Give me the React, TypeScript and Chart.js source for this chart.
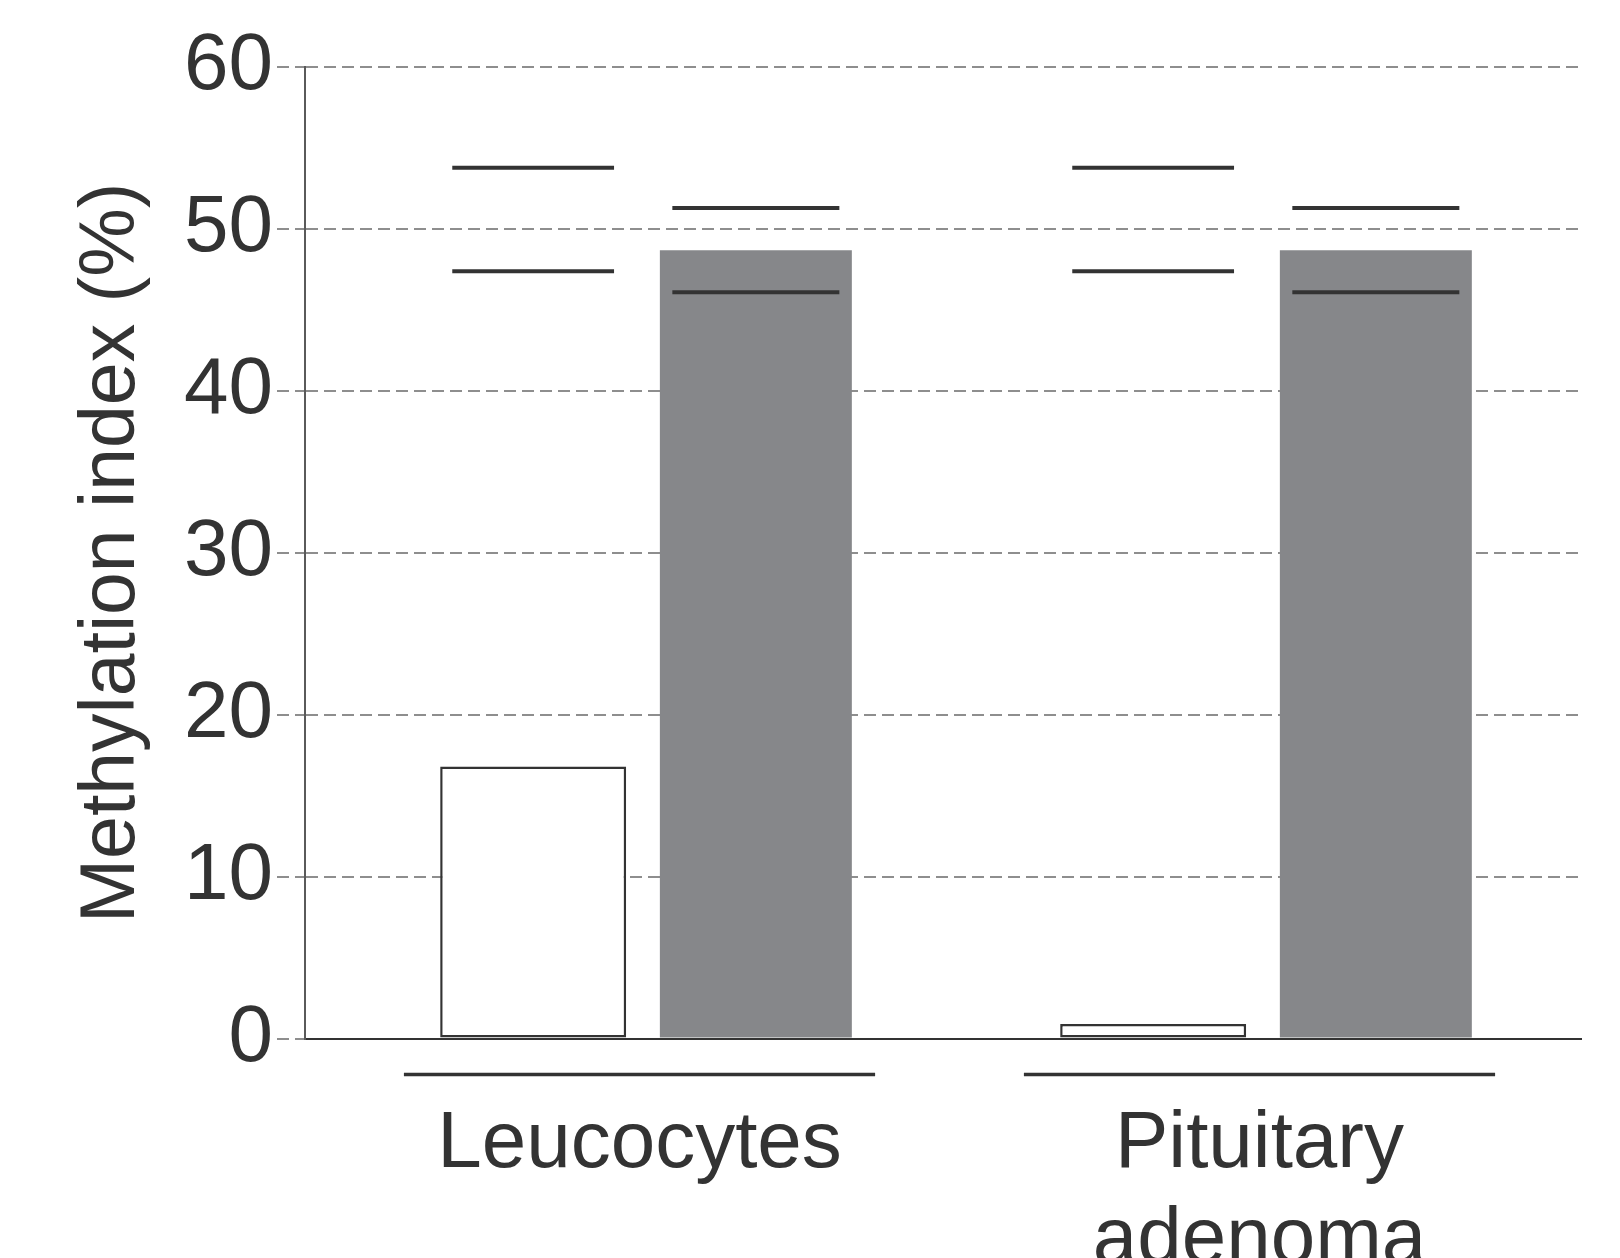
import React, { useEffect, useRef } from "react";
import { Chart, registerables } from "chart.js";

Chart.register(...registerables);

// ---- data ----
const categories: (string | string[])[] = ["Leucocytes", ["Pituitary", "adenoma"]];
const seriesNames = ["Open bars", "Filled bars"];
const openValues = [16.8, 0.9];
const filledValues = [48.7, 48.7];
const openUpper = [53.8, 53.8];
const openLower = [47.4, 47.4];
const filledUpper = [51.3, 51.3];
const filledLower = [46.1, 46.1];
const yTicks = [0, 10, 20, 30, 40, 50, 60];
const yTitle = "Methylation index (%)";

const FONT = "'Liberation Sans', Arial, Helvetica, sans-serif";
const DARK = "#333333";
const LABEL_OFFSET = -5;

const markerPlugin = {
  id: "rangeMarkers",
  afterDatasetsDraw(chart: any) {
    const { ctx } = chart;
    const y = chart.scales.y;
    const sets = [
      [openUpper, openLower],
      [filledUpper, filledLower],
    ];
    ctx.save();
    ctx.strokeStyle = DARK;
    ctx.lineWidth = 4;
    sets.forEach((marks, d) => {
      const meta = chart.getDatasetMeta(d);
      meta.data.forEach((el: any, i: number) => {
        const inset = el.width * 0.065;
        marks.forEach((arr) => {
          const py = y.getPixelForValue(arr[i]);
          ctx.beginPath();
          ctx.moveTo(el.x - el.width / 2 + inset, py);
          ctx.lineTo(el.x + el.width / 2 - inset, py);
          ctx.stroke();
        });
      });
    });
    ctx.restore();
  },
};

const bracketPlugin = {
  id: "groupBrackets",
  afterDraw(chart: any) {
    const { ctx } = chart;
    const xs = chart.scales.x;
    ctx.save();
    ctx.strokeStyle = DARK;
    ctx.lineWidth = 3.5;
    xs.ticks.forEach((t: any) => {
      const x1 = xs.getPixelForValue(t.value - 0.38) + LABEL_OFFSET;
      const x2 = xs.getPixelForValue(t.value + 0.38) + LABEL_OFFSET;
      const py = xs.top + 36;
      ctx.beginPath();
      ctx.moveTo(x1, py);
      ctx.lineTo(x2, py);
      ctx.stroke();
    });
    ctx.restore();
  },
};

export default function App() {
  const ref = useRef<HTMLCanvasElement | null>(null);

  useEffect(() => {
    if (!ref.current) return;
    Chart.defaults.font.family = FONT;
    const chart = new Chart(ref.current, {
      type: "bar",
      data: {
        datasets: [
          {
            label: seriesNames[0],
            data: openValues.map((v, i) => ({ x: i, y: v })),
            backgroundColor: "#ffffff",
            borderColor: DARK,
            borderWidth: 2.5,
            borderSkipped: false,
            barPercentage: 0.835,
            categoryPercentage: 0.7184,
          },
          {
            label: seriesNames[1],
            data: filledValues.map((v, i) => ({ x: i, y: v })),
            backgroundColor: "#86878a",
            borderWidth: 0,
            barPercentage: 0.862,
            categoryPercentage: 0.7184,
          },
        ],
      },
      options: {
        animation: false,
        responsive: true,
        maintainAspectRatio: false,
        layout: { padding: { top: 67.3, right: 39, bottom: 0, left: 0 } },
        plugins: {
          legend: { display: false },
          tooltip: { enabled: false },
        },
        events: [],
        scales: {
          x: {
            type: "linear",
            offset: false,
            bounds: "data",
            min: -0.5476,
            max: 1.5105,
            grid: { display: false, drawTicks: false, offset: false },
            border: { display: true, color: DARK, width: 2 },
            afterBuildTicks: (scale: any) => {
              scale.ticks = categories.map((_, i) => ({ value: i }));
            },
            afterFit: (scale: any) => {
              scale.height = 219.5;
            },
            ticks: {
              autoSkip: false,
              maxRotation: 0,
              minRotation: 0,
              padding: 58,
              labelOffset: LABEL_OFFSET,
              color: DARK,
              font: { size: 80, family: FONT, lineHeight: 1.2 },
              callback: (v: any) => categories[Math.round(Number(v))] as any,
            },
          },
          y: {
            type: "linear",
            min: yTicks[0],
            max: yTicks[yTicks.length - 1],
            afterFit: (scale: any) => {
              scale.width = 305;
            },
            grid: {
              color: "#8e8e8e",
              lineWidth: 2,
              drawTicks: true,
              tickLength: 28,
              tickColor: "#8e8e8e",
              tickWidth: 2,
              tickBorderDash: [12, 6],
            },
            border: { display: true, color: "#5a5a5a", width: 2, dash: [12, 6] },
            ticks: {
              stepSize: yTicks[1] - yTicks[0],
              padding: 4,
              color: DARK,
              font: { size: 80, family: FONT },
            },
            title: {
              display: true,
              text: yTitle,
              color: DARK,
              font: { size: 77, family: FONT, lineHeight: 1.2 },
              padding: { top: 67, bottom: 0 },
            },
          },
        },
      },
      plugins: [markerPlugin, bracketPlugin],
    } as any);
    return () => chart.destroy();
  }, []);

  return (
    <div
      style={{
        position: "fixed",
        left: 0,
        top: 0,
        width: 1620,
        height: 1258,
        background: "#ffffff",
      }}
    >
      <canvas ref={ref} />
    </div>
  );
}
